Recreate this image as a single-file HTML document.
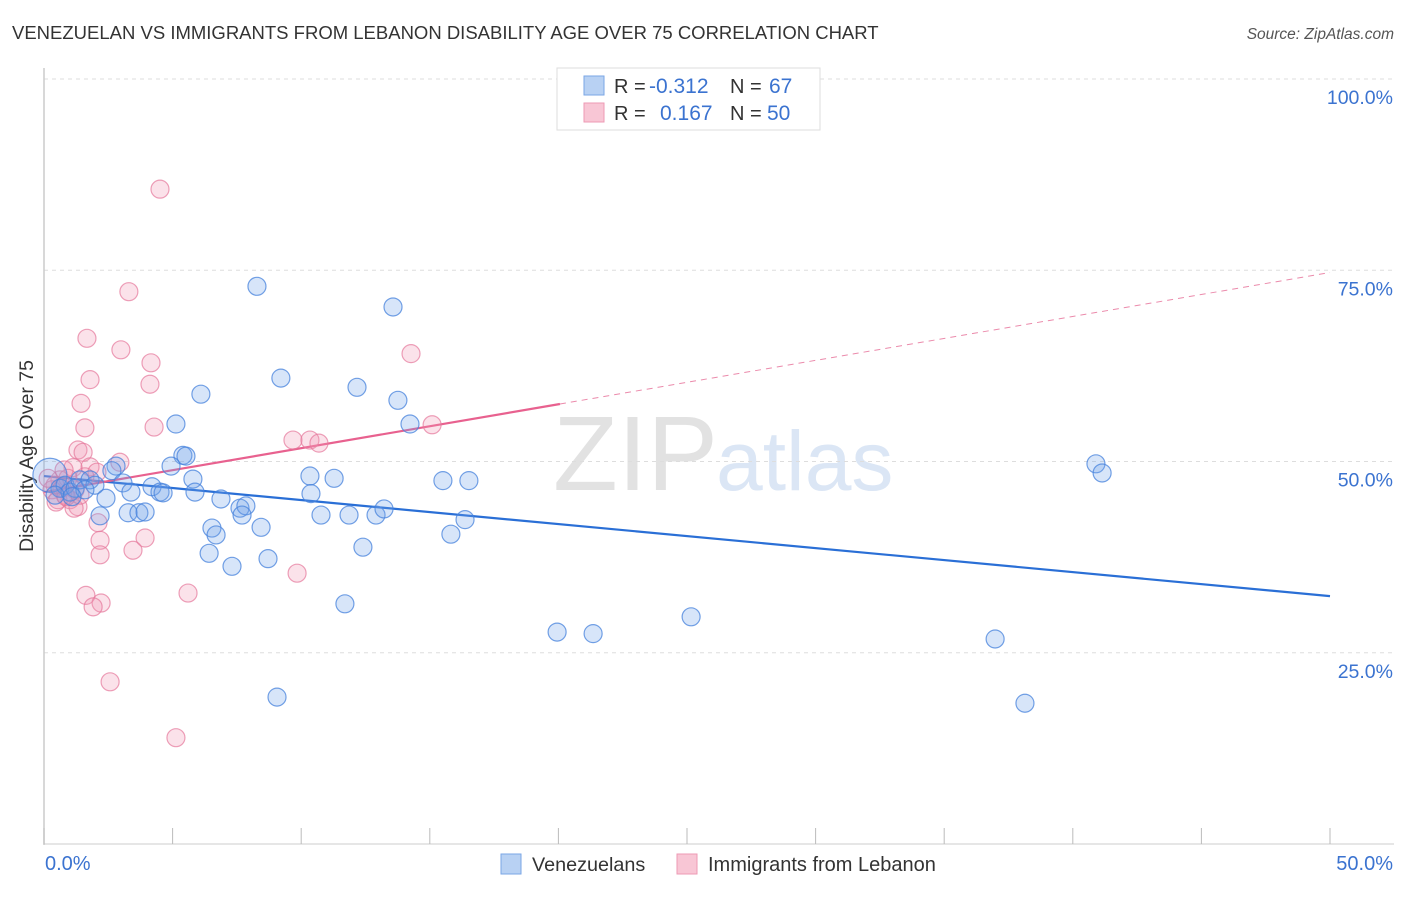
<!DOCTYPE html>
<html><head><meta charset="utf-8"><style>
body{margin:0;background:#fff;font-family:"Liberation Sans",sans-serif;}
svg text{font-family:"Liberation Sans",sans-serif;}
</style></head><body>
<svg id="chart" width="1406" height="892" viewBox="0 0 1406 892" xmlns="http://www.w3.org/2000/svg">
<text x="12" y="39" font-size="18.5" fill="#333">VENEZUELAN VS IMMIGRANTS FROM LEBANON DISABILITY AGE OVER 75 CORRELATION CHART</text>
<text x="1394" y="39" font-size="15.5" fill="#555" text-anchor="end" font-style="italic">Source: ZipAtlas.com</text>
<g>
<text x="553" y="490" font-size="106" fill="#e2e2e2" font-family="Liberation Serif, serif">ZIP</text>
<text x="716" y="490" font-size="84" fill="#dbe6f5">atlas</text>
</g>
<g id="grid"></g>
<g id="axes"></g>
<text transform="translate(33,456) rotate(-90)" font-size="19.5" fill="#333" text-anchor="middle">Disability Age Over 75</text>
<g id="lines"></g>
<g id="points"></g>
<g>
<rect x="557" y="68" width="263" height="62" fill="#fff" stroke="#ddd"/>
<rect x="584" y="76" width="20" height="19" fill="#b8d1f3" stroke="#7aa6e6"/>
<rect x="584" y="103" width="20" height="19" fill="#f8c6d5" stroke="#ee9ab4"/>
<text x="614" y="93" font-size="20" fill="#333">R =</text>
<text x="649" y="93" font-size="21" fill="#3b73d0">-0.312</text>
<text x="730" y="93" font-size="20" fill="#333">N =</text>
<text x="769" y="93" font-size="21" fill="#3b73d0">67</text>
<text x="614" y="120" font-size="20" fill="#333">R =</text>
<text x="660" y="120" font-size="21" fill="#3b73d0">0.167</text>
<text x="730" y="120" font-size="20" fill="#333">N =</text>
<text x="767" y="120" font-size="21" fill="#3b73d0">50</text>
</g>
<g>
<rect x="501" y="854" width="20" height="20" fill="#b8d1f3" stroke="#7aa6e6"/>
<text x="532" y="871" font-size="19.8" fill="#333">Venezuelans</text>
<rect x="677" y="854" width="20" height="20" fill="#f8c6d5" stroke="#ee9ab4"/>
<text x="708" y="871" font-size="20" fill="#333">Immigrants from Lebanon</text>
</g>
</svg>
<script>
const blueX=[8.28,13.57,9.21,6.10,12.17,13.76,5.13,14.23,5.40,5.52,4.94,2.80,2.64,3.07,4.20,4.51,4.63,3.38,2.41,5.79,5.87,6.88,7.62,7.85,7.70,3.27,3.69,3.93,2.18,10.34,11.28,10.38,10.77,11.86,12.91,13.22,15.51,16.52,16.37,15.82,6.53,6.69,8.44,6.42,7.31,8.71,12.40,11.70,19.95,21.35,25.16,36.98,38.14,40.90,41.14,9.06,0.23,0.62,0.82,1.01,1.21,1.40,1.79,0.43,1.98,1.59,1.09];
const blueY=[72.9,70.2,60.9,58.8,59.7,58.0,54.9,54.9,50.8,50.7,49.4,49.4,48.8,47.2,46.7,46.0,45.9,46.0,45.2,47.7,46.0,45.1,43.9,44.2,43.0,43.3,43.3,43.4,42.9,48.1,47.8,45.8,43.0,43.0,43.0,43.8,47.5,47.5,42.4,40.5,41.3,40.4,41.4,38.0,36.3,37.3,38.8,31.4,27.7,27.5,29.7,26.8,18.4,49.7,48.5,19.2,48.2,46.5,46.9,46.0,46.5,47.6,47.6,45.6,46.9,46.3,45.4];
const pinkX=[4.51,3.30,1.67,2.99,4.16,4.12,1.79,1.44,1.59,4.28,14.27,15.09,9.68,10.34,10.69,1.32,1.52,2.95,1.79,1.13,2.06,0.62,0.93,1.21,0.43,0.82,0.54,0.31,0.70,1.01,1.32,1.17,0.47,1.59,2.18,2.10,3.93,3.46,2.18,9.84,5.60,1.63,2.22,1.91,2.57,5.13,0.78,0.86,0.16,1.40];
const pinkY=[85.6,72.2,66.1,64.6,62.9,60.1,60.7,57.6,54.4,54.5,64.1,54.8,52.8,52.8,52.4,51.5,51.2,49.9,49.3,49.2,48.6,47.6,47.8,46.3,46.9,45.6,45.0,46.3,46.5,45.0,44.1,43.9,44.7,48.0,39.7,42.0,40.0,38.4,37.8,35.4,32.8,32.5,31.5,31.0,21.2,13.9,48.9,45.4,47.8,45.6];
const blueTrend=[48.1,32.4];
const pinkTrend=[46.0,74.7];
const pinkSolidEnd=20.06;
const yTicks=[25,50,75,100];
const yTickLabels=["25.0%","50.0%","75.0%","100.0%"];
const xTicks=[0,5,10,15,20,25,30,35,40,45,50];

const NS="http://www.w3.org/2000/svg";
const X=v=>44+v/50*1286;
const Y=v=>844-v/100*765;
function mk(tag,attrs,parent){const e=document.createElementNS(NS,tag);for(const k in attrs)e.setAttribute(k,attrs[k]);parent.appendChild(e);return e;}
const grid=document.getElementById('grid'),axes=document.getElementById('axes'),lines=document.getElementById('lines'),pts=document.getElementById('points');
yTicks.forEach((t,i)=>{
  const l=mk('line',{x1:44,x2:1394,y1:Y(t),y2:Y(t),stroke:'#ddd','stroke-dasharray':'4,4'},grid);
  
  
  const tx=mk('text',{x:1393,y:Y(t)+25,'font-size':19.5,fill:'#3b73d0','text-anchor':'end'},axes);
  tx.textContent=yTickLabels[i];
  
  
});
const ax=mk('line',{x1:44,x2:44,y1:68,y2:845,stroke:'#ccc','stroke-width':1.5},axes);


const bx=mk('line',{x1:44,x2:1394,y1:844,y2:844,stroke:'#ccc'},axes);


xTicks.forEach(t=>{
  const l=mk('line',{x1:X(t),x2:X(t),y1:828,y2:844,stroke:'#bbb'},axes);
  
  
});
const xl0=mk('text',{x:45,y:870,'font-size':20,fill:'#3b73d0'},axes);xl0.textContent='0.0%';


const xl1=mk('text',{x:1393,y:870,'font-size':20,fill:'#3b73d0','text-anchor':'end'},axes);xl1.textContent='50.0%';



function dot(x,y,r,fill,stroke,name){
  const c=mk('circle',{cx:X(x),cy:Y(y),r:r,fill:fill,stroke:stroke,'stroke-width':1.2},pts);
  
  
}
pinkX.forEach((x,i)=>dot(x,pinkY[i],9,'rgba(242,150,180,0.28)','rgba(230,120,155,0.7)','lebanon-point'));
blueX.forEach((x,i)=>dot(x,blueY[i],i===56?17:9,'rgba(110,160,235,0.28)','rgba(70,130,220,0.75)','venezuelan-point'));

const bl=mk('line',{x1:X(0),y1:Y(blueTrend[0]),x2:X(50),y2:Y(blueTrend[1]),stroke:'#2a6fd6','stroke-width':2.2},lines);


const pAt=x=>pinkTrend[0]+(pinkTrend[1]-pinkTrend[0])*x/50;
const pl=mk('line',{x1:X(0),y1:Y(pAt(0)),x2:X(pinkSolidEnd),y2:Y(pAt(pinkSolidEnd)),stroke:'#e8618f','stroke-width':2.2},lines);


const pd=mk('line',{x1:X(pinkSolidEnd),y1:Y(pAt(pinkSolidEnd)),x2:X(50),y2:Y(pAt(50)),stroke:'#eb8aab','stroke-width':1,'stroke-dasharray':'6,5'},lines);


</script>
</body></html>
